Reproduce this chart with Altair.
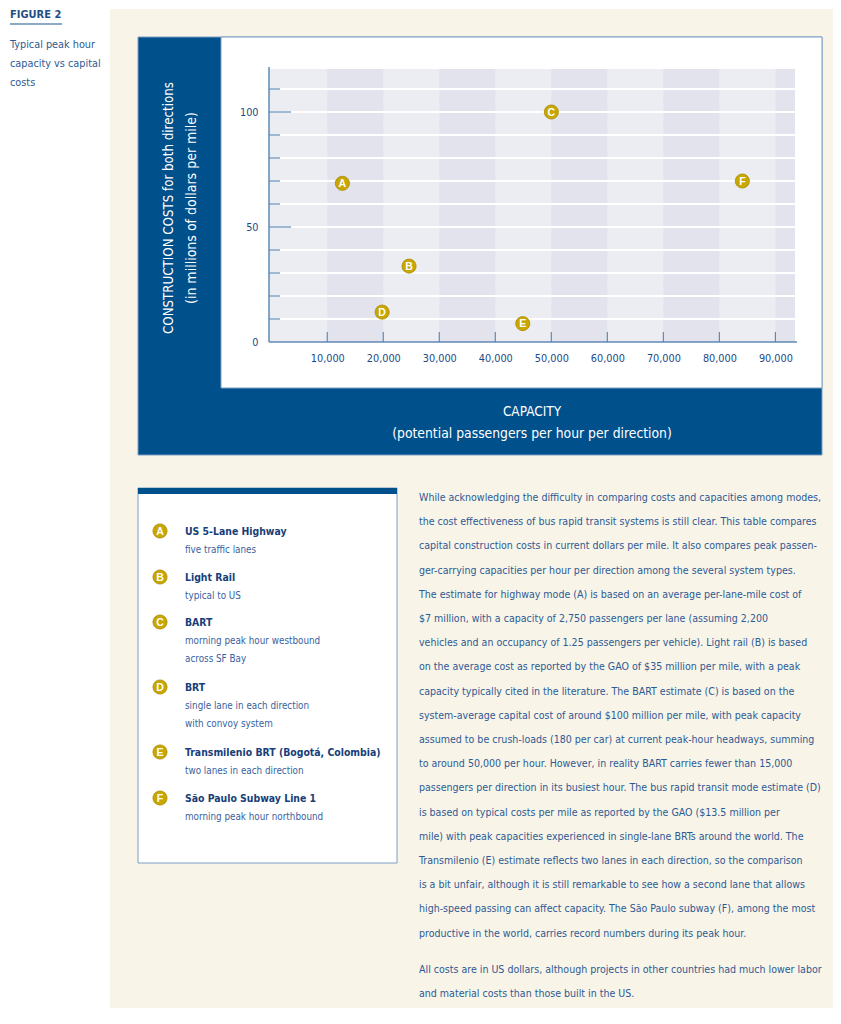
import altair as alt
import pandas as pd

# ---------------- data ----------------
modes = ["A", "B", "C", "D", "E", "F"]
capacity = [12700, 24600, 50000, 19800, 44900, 84100]
cost = [69, 33, 100, 13, 8, 70]

legend_titles = ["US 5-Lane Highway", "Light Rail", "BART", "BRT",
                 "Transmilenio BRT (Bogotá, Colombia)", "São Paulo Subway Line 1"]
legend_notes = [["five traffic lanes"], ["typical to US"],
                ["morning peak hour westbound", "across SF Bay"],
                ["single lane in each direction", "with convoy system"],
                ["two lanes in each direction"], ["morning peak hour northbound"]]

x_tick_values = [10000, 20000, 30000, 40000, 50000, 60000, 70000, 80000, 90000]
y_label_values = [0, 50, 100]
y_grid_values = [10, 20, 30, 40, 50, 60, 70, 80, 90, 100, 110]
y_minor_ticks = [10, 20, 30, 40, 60, 70, 80, 90, 110]
y_major_ticks = [50, 100]
band_start = [10000, 30000, 50000, 70000, 90000]
band_end = [20000, 40000, 60000, 80000, 93500]

figure_label = "FIGURE 2"
figure_caption = ["Typical peak hour", "capacity vs capital", "costs"]
y_title = ["CONSTRUCTION COSTS for both directions", "(in millions of dollars per mile)"]
x_title = ["CAPACITY", "(potential passengers per hour per direction)"]

body_para1 = [
    "While acknowledging the difficulty in comparing costs and capacities among modes,",
    "the cost effectiveness of bus rapid transit systems is still clear. This table compares",
    "capital construction costs in current dollars per mile. It also compares peak passen-",
    "ger-carrying capacities per hour per direction among the several system types.",
    "The estimate for highway mode (A) is based on an average per-lane-mile cost of",
    "$7 million, with a capacity of 2,750 passengers per lane (assuming 2,200",
    "vehicles and an occupancy of 1.25 passengers per vehicle). Light rail (B) is based",
    "on the average cost as reported by the GAO of $35 million per mile, with a peak",
    "capacity typically cited in the literature. The BART estimate (C) is based on the",
    "system-average capital cost of around $100 million per mile, with peak capacity",
    "assumed to be crush-loads (180 per car) at current peak-hour headways, summing",
    "to around 50,000 per hour. However, in reality BART carries fewer than 15,000",
    "passengers per direction in its busiest hour. The bus rapid transit mode estimate (D)",
    "is based on typical costs per mile as reported by the GAO ($13.5 million per",
    "mile) with peak capacities experienced in single-lane BRTs around the world. The",
    "Transmilenio (E) estimate reflects two lanes in each direction, so the comparison",
    "is a bit unfair, although it is still remarkable to see how a second lane that allows",
    "high-speed passing can affect capacity. The São Paulo subway (F), among the most",
    "productive in the world, carries record numbers during its peak hour.",
]
body_para2 = [
    "All costs are in US dollars, although projects in other countries had much lower labor",
    "and material costs than those built in the US.",
]

# ---------------- style / layout ----------------
FONT = "Liberation Sans Narrow, Arial Narrow, DejaVu Sans Condensed, Roboto Condensed, sans-serif"
BLUE = "#00508C"
GOLD = "#C9A600"
CREAM = "#F8F4E8"
PLOT_BG = "#ECEDF3"
BAND = "#E2E3ED"
AXIS = "#5F8AB5"
TICK_TXT = "#1B4A86"
LEG_TITLE = "#173E78"
LEG_SUB = "#3862A0"
BODY = "#2E5A94"
BORDER = "#7D9EC2"

OX, OY = 269, 69          # page position of plot origin
W, H = 526, 273
TOTAL_W, TOTAL_H = 825, 1000


def px(x):
    return x - OX


def py(y):
    return y - OY


def one():
    return pd.DataFrame({"k": [0]})


def rect(x1, y1, x2, y2, fill, stroke=None, sw=1.0):
    kw = dict(fill=fill)
    if stroke:
        kw.update(stroke=stroke, strokeWidth=sw)
    return alt.Chart(one()).mark_rect(**kw).encode(
        x=alt.value(px(x1)), x2=alt.value(px(x2)),
        y=alt.value(py(y1)), y2=alt.value(py(y2)))


def text(x, y, s, size, color, weight="normal", align="left", angle=0, font=FONT):
    return alt.Chart(one()).mark_text(
        text=s, fontSize=size, color=color, fontWeight=weight, align=align,
        baseline="middle", angle=angle, font=font).encode(
        x=alt.value(px(x)), y=alt.value(py(y)))


xscale = alt.Scale(domain=[-400, 93500], nice=False, zero=False)
yscale = alt.Scale(domain=[0, 118.7], nice=False, zero=False)
xaxis = alt.Axis(values=x_tick_values, labelExpr="format(datum.value, ',')",
                 domain=False, ticks=False, tickSize=0,
                 grid=False, labelPadding=10, labelFont=FONT, labelFontSize=10.8,
                 labelColor=TICK_TXT, labelFlush=False, labelOverlap=False, title=None,
                 zindex=1)
yaxis = alt.Axis(values=y_label_values, labelExpr="format(datum.value, 'd')",
                 domain=False, ticks=False, tickSize=0, grid=False,
                 labelPadding=11, labelFont=FONT, labelFontSize=10.8, labelColor=TICK_TXT,
                 labelFlush=False, labelOverlap=False, title=None, zindex=1)


def X(field):
    return alt.X(field, type="quantitative", scale=xscale, axis=xaxis, title=None)


def Y(field):
    return alt.Y(field, type="quantitative", scale=yscale, axis=yaxis, title=None)


layers = []

# page backgrounds
layers.append(rect(110, 9, OX - 8 + TOTAL_W + 8, OY - 8 + TOTAL_H + 8, CREAM))
layers.append(rect(138, 37, 822, 455, BLUE, BORDER, 1))
layers.append(rect(221, 37, 822, 388, "white", BORDER, 1))

# plot background and bands
layers.append(rect(OX, OY, OX + W, OY + H, PLOT_BG))
bands_df = pd.DataFrame({"b0": band_start, "b1": band_end})
layers.append(alt.Chart(bands_df).mark_rect(fill=BAND).encode(
    x=X("b0"), x2="b1", y=alt.value(0), y2=alt.value(H)))

# white horizontal gridlines
grid_df = pd.DataFrame({"g": y_grid_values})
layers.append(alt.Chart(grid_df).mark_rule(color="white", strokeWidth=2).encode(
    y=Y("g"), x=alt.value(0), x2=alt.value(W)))

# axis lines
layers.append(alt.Chart(one()).mark_rule(color=AXIS, strokeWidth=1.5).encode(
    x=alt.value(0), y=alt.value(py(67)), y2=alt.value(H)))
layers.append(alt.Chart(one()).mark_rule(color=AXIS, strokeWidth=1.5).encode(
    x=alt.value(0), x2=alt.value(px(797)), y=alt.value(H)))

# inward ticks
layers.append(alt.Chart(pd.DataFrame({"t": y_minor_ticks})).mark_rule(color=AXIS, strokeWidth=1.2).encode(
    y=Y("t"), x=alt.value(0), x2=alt.value(11)))
layers.append(alt.Chart(pd.DataFrame({"t": y_major_ticks})).mark_rule(color=AXIS, strokeWidth=1.2).encode(
    y=Y("t"), x=alt.value(0), x2=alt.value(22)))
layers.append(alt.Chart(pd.DataFrame({"t": x_tick_values})).mark_rule(color=AXIS, strokeWidth=1.2).encode(
    x=X("t"), y=alt.value(H), y2=alt.value(H - 10)))

# data points
pts = pd.DataFrame({"mode": modes, "capacity": capacity, "cost": cost})
layers.append(alt.Chart(pts).mark_circle(size=200, color=GOLD, opacity=1,
                                         stroke="#A88C00", strokeWidth=0.8).encode(
    x=X("capacity"), y=Y("cost")))
layers.append(alt.Chart(pts).mark_text(color="white", fontWeight="bold", fontSize=10.5,
                                       font="Liberation Sans, Arial, sans-serif",
                                       baseline="middle", dy=0.5).encode(
    x=X("capacity"), y=Y("cost"), text="mode:N"))

# axis titles (white on blue)
layers.append(text(169, 208, y_title[0], 13.2, "white", align="center", angle=270))
layers.append(text(192, 208, y_title[1], 14, "white", align="center", angle=270))
layers.append(text(532, 412, x_title[0], 13.5, "white", align="center"))
layers.append(text(532, 434, x_title[1], 13.8, "white", align="center"))

# figure header
layers.append(text(10, 15, figure_label, 11, "#1F4E86", weight="bold"))
layers.append(alt.Chart(one()).mark_rule(color="#8AAAC8", strokeWidth=2).encode(
    x=alt.value(px(10)), x2=alt.value(px(62)), y=alt.value(py(24))))
for i, line in enumerate(figure_caption):
    layers.append(text(10, 45 + i * 19, line, 10.8, "#2E5A92"))

# legend box
layers.append(rect(138, 488, 397, 863, "white", BORDER, 1))
layers.append(rect(138, 488, 397, 494, BLUE))
legend_y = [531, 577, 622, 687, 752, 798]
for i, m in enumerate(modes):
    yy = legend_y[i]
    layers.append(alt.Chart(one()).mark_circle(size=200, color=GOLD, opacity=1,
                                               stroke="#A88C00", strokeWidth=0.8).encode(
        x=alt.value(px(160)), y=alt.value(py(yy))))
    layers.append(text(160, yy + 0.5, m, 10.5, "white", weight="bold", align="center",
                       font="Liberation Sans, Arial, sans-serif"))
    layers.append(text(185, yy + 1, legend_titles[i], 10.4, LEG_TITLE, weight="bold"))
    for j, note in enumerate(legend_notes[i]):
        layers.append(text(185, yy + 19 + j * 18, note, 9.8, LEG_SUB))

# body text
for i, line in enumerate(body_para1):
    layers.append(text(419, 498 + i * 24.2, line, 10.55, BODY))
for i, line in enumerate(body_para2):
    layers.append(text(419, 970 + i * 24.2, line, 10.55, BODY))

chart = alt.layer(*layers).properties(
    width=W, height=H,
    padding={"left": OX - 8, "top": OY - 8,
             "right": TOTAL_W - (OX - 8) - W, "bottom": TOTAL_H - (OY - 8) - H},
    autosize=alt.AutoSizeParams(type="none"),
    background="white",
).configure_view(stroke=None)

chart.save("out.html", embed_options={"renderer": "svg", "actions": False})
